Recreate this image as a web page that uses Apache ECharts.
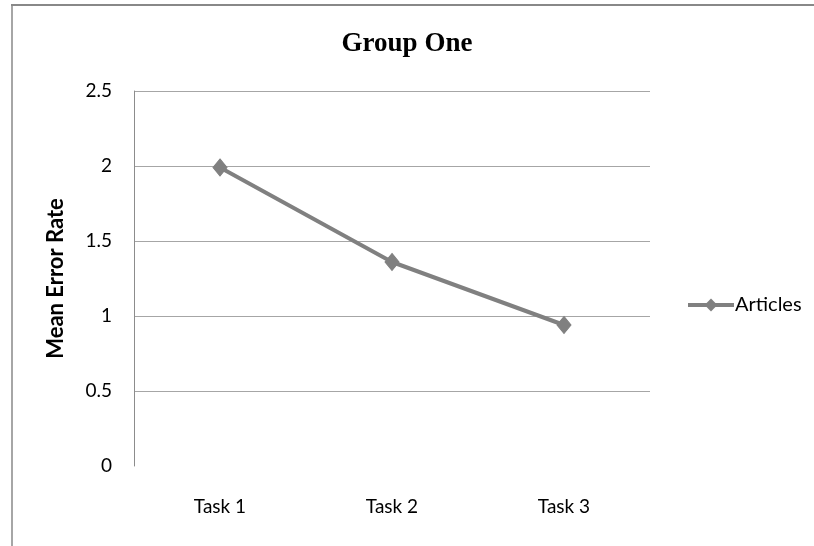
<!DOCTYPE html>
<html>
<head>
<meta charset="utf-8">
<script src="https://cdn.jsdelivr.net/npm/echarts@6/dist/echarts.min.js"></script>
<style>
  html, body { margin: 0; padding: 0; background: #ffffff; }
  #chart { width: 814px; height: 546px; }
</style>
</head>
<body>
<div id="chart"></div>
<script>
// Mean error rate per task for group one
const categories = ['Task 1', 'Task 2', 'Task 3'];
const articles = [1.99, 1.36, 0.94];
const yTicks = { min: 0, max: 2.5, interval: 0.5 };

const chart = echarts.init(document.getElementById('chart'), null, { renderer: 'canvas' });
const gray = '#808080';
const sans = 'Lato, "Liberation Sans", sans-serif';

chart.setOption({
  backgroundColor: '#ffffff',
  animation: false,
  title: {
    text: 'Group One',
    left: 'center',
    top: 26,
    textStyle: {
      fontFamily: '"Liberation Serif", "DejaVu Serif", serif',
      fontWeight: 'bold',
      fontSize: 27,
      color: '#000000'
    }
  },
  // frame lines of the chart area
  graphic: [
    { type: 'line', shape: { x1: 11, y1: 5, x2: 814, y2: 5 }, style: { stroke: '#888888', lineWidth: 2 } },
    { type: 'line', shape: { x1: 12, y1: 5, x2: 12, y2: 546 }, style: { stroke: '#888888', lineWidth: 1.5 } }
  ],
  legend: {
    data: ['Articles'],
    orient: 'vertical',
    left: 686,
    top: 295,
    padding: 0,
    itemWidth: 46,
    itemHeight: 16,
    itemGap: 4,
    lineStyle: { width: 4 },
    textStyle: { fontFamily: sans, fontSize: 20, color: '#000000', padding: [0, 0, 0, -4] }
  },
  grid: { left: 134, right: 164, top: 91, bottom: 80, containLabel: false },
  xAxis: {
    type: 'category',
    data: categories,
    boundaryGap: true,
    axisLine: { show: false },
    axisTick: { show: false },
    axisLabel: { margin: 31, fontFamily: sans, fontSize: 19, color: '#000000' },
    splitLine: { show: false }
  },
  yAxis: {
    type: 'value',
    min: yTicks.min,
    max: yTicks.max,
    interval: yTicks.interval,
    name: 'Mean Error Rate',
    nameLocation: 'middle',
    nameGap: 67,
    nameTextStyle: { fontFamily: sans, fontSize: 22, fontWeight: 'bold', color: '#000000' },
    axisLine: { show: true, lineStyle: { color: '#8c8c8c', width: 1 } },
    axisTick: { show: false },
    axisLabel: { margin: 22, fontFamily: sans, fontSize: 19, color: '#000000' },
    splitLine: { show: true, showMinLine: false, lineStyle: { color: '#a6a6a6', width: 1 } }
  },
  series: [{
    name: 'Articles',
    type: 'line',
    data: articles,
    symbol: 'diamond',
    symbolSize: [14, 17],
    lineStyle: { color: gray, width: 4 },
    itemStyle: { color: gray, borderColor: gray },
    emphasis: { disabled: true }
  }]
});
</script>
</body>
</html>
